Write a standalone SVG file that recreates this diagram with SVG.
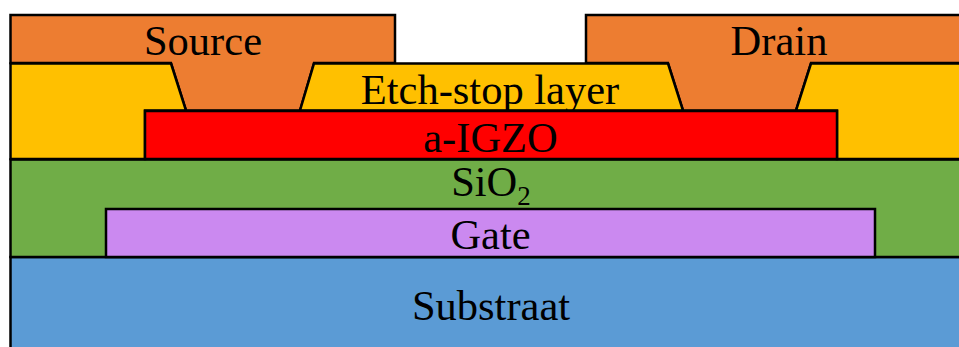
<svg xmlns="http://www.w3.org/2000/svg" width="959" height="347" viewBox="0 0 959 347">
<style>
.l{stroke:#000;stroke-width:2.500;stroke-linejoin:miter}
text{font-family:"Liberation Serif","Times New Roman",serif;font-size:42.500px;fill:#000;text-anchor:middle}
</style>
<rect width="959" height="347" fill="#fff"/>
<g id="substrate"><rect class="l" x="10.500" y="257" width="960" height="100" fill="#5b9bd5"/><text x="491" y="320">Substraat</text></g>
<g id="sio2"><rect class="l" x="10.500" y="159.500" width="960" height="97.500" fill="#70ad47"/><text x="491" y="196">SiO<tspan font-size="27" dy="9">2</tspan></text></g>
<g id="gate"><rect class="l" x="106" y="209" width="769" height="48" fill="#cb89f0"/><text x="490.500" y="249">Gate</text></g>
<g id="source"><path class="l" d="M10.500 15H395V63H314L300 110.500H186L171 63H10.500Z" fill="#ed7d31"/><text x="203" y="55">Source</text></g>
<g id="drain"><path class="l" d="M970 15H586V63H668L683 110.500H796L811 63H970Z" fill="#ed7d31"/><text x="779" y="55">Drain</text></g>
<g id="etch-stop-layer"><path class="l" d="M10.500 63.500H171L186 110.500H145V159H10.500Z" fill="#ffc000"/><path class="l" d="M314 63.500H668L683 110.500H300Z" fill="#ffc000"/><path class="l" d="M970 63.500H811L796 110.500H837V159H970Z" fill="#ffc000"/><text x="490" y="104">Etch-stop layer</text></g>
<g id="a-igzo"><rect class="l" x="145" y="111" width="692" height="48" fill="#f00"/><text x="490.500" y="152">a-IGZO</text></g>
</svg>
